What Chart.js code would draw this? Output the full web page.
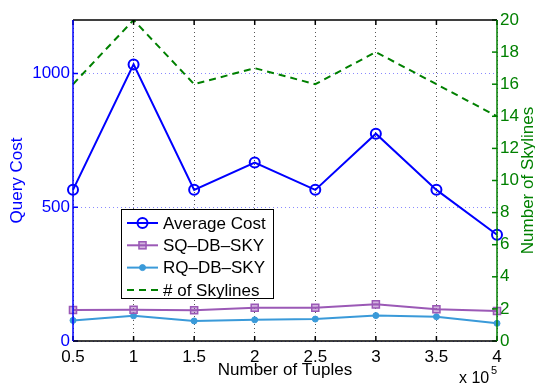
<!DOCTYPE html>
<html>
<head>
<meta charset="utf-8">
<script src="https://cdn.jsdelivr.net/npm/chart.js@4/dist/chart.umd.min.js"></script>
<style>
html, body { margin: 0; padding: 0; background: #fff; }
</style>
</head>
<body>
<canvas id="myChart" width="535" height="389"></canvas>
<script>
const tuples = ['0.5', '1', '1.5', '2', '2.5', '3', '3.5', '4'];
const averageCost = [565, 1034, 565, 667, 565, 775, 565, 397];
const sqDbSky = [116, 117, 115, 124, 124, 137, 119, 112];
const rqDbSky = [77, 94, 75, 79, 82, 95, 91, 66];
const skylines = [16, 20, 16, 17, 16, 18, 16, 14];
const costTicks = [0, 500, 1000];
const skylineTicks = [0, 2, 4, 6, 8, 10, 12, 14, 16, 18, 20];

const FONT = 'Liberation Sans, Arial, sans-serif';
const BLUE = '#0000ff';
const GREEN = '#008000';
const PURPLE = '#9b59b6';
const LIGHTBLUE = '#3a9ad9';

// frame, inward ticks, legend box, right title and the x 10^5 note
const extras = {
    id: 'extras',
    afterDraw(chart) {
        const ctx = chart.ctx;
        const a = chart.chartArea;
        const x = chart.scales.x;
        const yL = chart.scales.y;
        const yR = chart.scales.y1;
        ctx.save();
        ctx.lineWidth = 1.5;
        ctx.setLineDash([]);

        // x ticks, top and bottom
        ctx.strokeStyle = '#000';
        tuples.forEach((t, i) => {
            const px = x.getPixelForValue(i);
            ctx.beginPath();
            ctx.moveTo(px, a.bottom); ctx.lineTo(px, a.bottom - 5);
            ctx.moveTo(px, a.top); ctx.lineTo(px, a.top + 5);
            ctx.stroke();
        });
        ctx.strokeStyle = BLUE;
        costTicks.forEach(v => {
            const py = yL.getPixelForValue(v);
            ctx.beginPath();
            ctx.moveTo(a.left, py); ctx.lineTo(a.left + 5, py);
            ctx.stroke();
        });
        ctx.strokeStyle = GREEN;
        skylineTicks.forEach(v => {
            const py = yR.getPixelForValue(v);
            ctx.beginPath();
            ctx.moveTo(a.right, py); ctx.lineTo(a.right - 5, py);
            ctx.stroke();
        });

        // frame
        ctx.strokeStyle = '#000';
        ctx.beginPath();
        ctx.moveTo(a.left, a.top); ctx.lineTo(a.right, a.top);
        ctx.moveTo(a.left, a.bottom); ctx.lineTo(a.right, a.bottom);
        ctx.stroke();
        ctx.strokeStyle = BLUE;
        ctx.beginPath();
        ctx.moveTo(a.left, a.top); ctx.lineTo(a.left, a.bottom);
        ctx.stroke();
        ctx.strokeStyle = GREEN;
        ctx.beginPath();
        ctx.moveTo(a.right, a.top); ctx.lineTo(a.right, a.bottom);
        ctx.stroke();

        // right axis title, reading bottom to top
        ctx.save();
        ctx.translate(528, (a.top + a.bottom) / 2);
        ctx.rotate(-Math.PI / 2);
        ctx.fillStyle = GREEN;
        ctx.font = '17px ' + FONT;
        ctx.textAlign = 'center';
        ctx.textBaseline = 'middle';
        ctx.fillText('Number of Skylines', 0, 0);
        ctx.restore();

        // x 10^5
        ctx.fillStyle = '#000';
        ctx.textBaseline = 'middle';
        ctx.textAlign = 'left';
        ctx.font = '16px ' + FONT;
        ctx.fillText('x 10', 459, 379);
        ctx.font = '11px ' + FONT;
        ctx.fillText('5', 491, 371);

        // legend
        const bx = 121, by = 209, bw = 152, bh = 89;
        ctx.fillStyle = '#fff';
        ctx.fillRect(bx, by, bw, bh);
        ctx.lineWidth = 1;
        ctx.strokeStyle = '#000';
        ctx.strokeRect(bx + 0.5, by + 0.5, bw, bh);
        chart.data.datasets.forEach((ds, i) => {
            const cy = by + 14 + i * 22.3;
            ctx.save();
            ctx.strokeStyle = ds.borderColor;
            ctx.lineWidth = 2;
            ctx.setLineDash(ds.borderDash || []);
            ctx.beginPath();
            ctx.moveTo(bx + 6, cy); ctx.lineTo(bx + 37, cy);
            ctx.stroke();
            ctx.setLineDash([]);
            const mx = bx + 21.5;
            if (ds.pointStyle === 'circle' && ds.pointRadius > 0) {
                ctx.beginPath();
                ctx.arc(mx, cy, ds.pointRadius, 0, Math.PI * 2);
                ctx.fillStyle = ds.pointBackgroundColor;
                ctx.fill();
                ctx.lineWidth = ds.pointBorderWidth;
                ctx.strokeStyle = ds.pointBorderColor;
                ctx.stroke();
            } else if (ds.pointStyle === 'rect') {
                const s = ds.pointRadius * Math.SQRT1_2;
                ctx.fillStyle = ds.pointBackgroundColor;
                ctx.fillRect(mx - s, cy - s, 2 * s, 2 * s);
                ctx.lineWidth = ds.pointBorderWidth;
                ctx.strokeStyle = ds.pointBorderColor;
                ctx.strokeRect(mx - s, cy - s, 2 * s, 2 * s);
            }
            ctx.fillStyle = '#000';
            ctx.font = '17px ' + FONT;
            ctx.textAlign = 'left';
            ctx.textBaseline = 'middle';
            ctx.fillText(ds.label, bx + 42, cy + 1);
            ctx.restore();
        });
        ctx.restore();
    }
};

const data = {
    labels: tuples,
    datasets: [
        {
            label: 'Average Cost',
            data: averageCost,
            yAxisID: 'y',
            borderColor: BLUE,
            borderWidth: 2,
            pointStyle: 'circle',
            pointRadius: 5,
            pointBorderWidth: 2,
            pointBorderColor: BLUE,
            pointBackgroundColor: 'rgba(0,0,0,0)'
        },
        {
            label: 'SQ\u2013DB\u2013SKY',
            data: sqDbSky,
            yAxisID: 'y',
            borderColor: PURPLE,
            borderWidth: 2,
            pointStyle: 'rect',
            pointRadius: 5,
            pointBorderWidth: 1.5,
            pointBorderColor: PURPLE,
            pointBackgroundColor: 'rgba(155,89,182,0.45)'
        },
        {
            label: 'RQ\u2013DB\u2013SKY',
            data: rqDbSky,
            yAxisID: 'y',
            borderColor: LIGHTBLUE,
            borderWidth: 2,
            pointStyle: 'circle',
            pointRadius: 3,
            pointBorderWidth: 1,
            pointBorderColor: LIGHTBLUE,
            pointBackgroundColor: LIGHTBLUE
        },
        {
            label: '# of Skylines',
            data: skylines,
            yAxisID: 'y1',
            borderColor: GREEN,
            borderWidth: 2,
            borderDash: [7, 5],
            pointRadius: 0
        }
    ]
};

const config = {
    type: 'line',
    data: data,
    plugins: [extras],
    options: {
        responsive: false,
        animation: false,
        layout: { padding: { top: 20, left: 0, right: 0, bottom: 0 } },
        plugins: {
            legend: { display: false },
            tooltip: { enabled: false }
        },
        scales: {
            x: {
                offset: false,
                afterFit: (s) => { s.height = 48; },
                grid: { color: '#555', drawTicks: false, lineWidth: 1 },
                border: { display: false, dash: [1, 3] },
                ticks: { color: '#000', padding: 6, maxRotation: 0, autoSkip: false, font: { family: FONT, size: 17 } },
                title: { display: true, text: 'Number of Tuples', color: '#000', padding: { top: 0, bottom: 8 }, font: { family: FONT, size: 17 } }
            },
            y: {
                position: 'left',
                min: 0,
                max: 1200,
                afterBuildTicks: (s) => { s.ticks = costTicks.map(v => ({ value: v })); },
                afterFit: (s) => { s.width = 73; },
                grid: { color: '#8a8aff', drawTicks: false, lineWidth: 1 },
                border: { display: false, dash: [1, 3] },
                ticks: { color: BLUE, padding: 3, font: { family: FONT, size: 17 }, callback: (v) => String(v) },
                title: { display: true, text: 'Query Cost', color: BLUE, padding: { top: 7, bottom: 0 }, font: { family: FONT, size: 17 } }
            },
            y1: {
                position: 'right',
                min: 0,
                max: 20,
                afterBuildTicks: (s) => { s.ticks = skylineTicks.map(v => ({ value: v })); },
                afterFit: (s) => { s.width = 38; },
                grid: { display: false, drawTicks: false },
                border: { display: false },
                ticks: { color: GREEN, padding: 3, font: { family: FONT, size: 17 }, callback: (v) => String(v) }
            }
        }
    }
};

var myChart = new Chart(document.getElementById('myChart'), config);
</script>
</body>
</html>
